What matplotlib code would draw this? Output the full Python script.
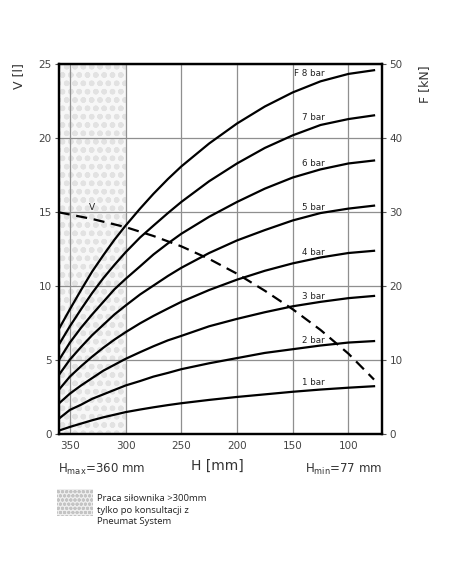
import numpy as np
import matplotlib
matplotlib.use('Agg')
import matplotlib.pyplot as plt
from matplotlib.patches import Rectangle

# stroke H [mm]
H = [360, 350, 340, 330, 320, 310, 300, 287, 275, 262, 250, 225, 200, 175, 150, 125, 100, 77]

# force F [kN] for each supply pressure
F_1bar = [0.5, 1.0, 1.45, 1.9, 2.3, 2.65, 3.0, 3.35, 3.65, 3.95, 4.2, 4.65, 5.05, 5.4, 5.75, 6.05, 6.3, 6.5]
F_2bar = [2.1, 3.3, 4.0, 4.8, 5.4, 6.0, 6.6, 7.2, 7.8, 8.3, 8.8, 9.6, 10.3, 11.0, 11.5, 12.0, 12.4, 12.6]
F_3bar = [4.15, 5.5, 6.6, 7.6, 8.6, 9.4, 10.2, 11.1, 11.9, 12.7, 13.3, 14.6, 15.6, 16.5, 17.3, 17.9, 18.4, 18.7]
F_4bar = [6.0, 7.8, 9.2, 10.5, 11.7, 12.8, 13.8, 15.0, 16.0, 17.0, 17.9, 19.5, 20.9, 22.1, 23.1, 23.9, 24.5, 24.8]
F_5bar = [8.0, 10.1, 11.8, 13.4, 14.8, 16.2, 17.4, 18.9, 20.1, 21.4, 22.5, 24.5, 26.2, 27.6, 28.9, 29.9, 30.5, 30.9]
F_6bar = [10.0, 12.4, 14.4, 16.2, 17.9, 19.6, 21.0, 22.7, 24.3, 25.8, 27.1, 29.4, 31.4, 33.2, 34.7, 35.8, 36.6, 37.0]
F_7bar = [12.1, 14.6, 16.9, 19.1, 21.1, 22.9, 24.6, 26.6, 28.2, 29.9, 31.4, 34.2, 36.6, 38.7, 40.4, 41.8, 42.6, 43.1]
F_8bar = [14.2, 16.9, 19.5, 22.0, 24.2, 26.3, 28.2, 30.5, 32.5, 34.5, 36.2, 39.3, 42.0, 44.3, 46.2, 47.7, 48.7, 49.2]
curves = [F_1bar, F_2bar, F_3bar, F_4bar, F_5bar, F_6bar, F_7bar, F_8bar]
curve_labels = ['1 bar', '2 bar', '3 bar', '4 bar', '5 bar', '6 bar', '7 bar', 'F 8 bar']
label_F = [7.0, 12.7, 18.6, 24.6, 30.6, 36.6, 42.8, 48.8]

# volume V [l]
H_V = [360, 330, 300, 275, 250, 225, 200, 175, 150, 125, 100, 77]
V = [15.0, 14.55, 14.0, 13.4, 12.7, 11.85, 10.85, 9.7, 8.45, 7.05, 5.45, 3.7]

x_ticks = [350, 300, 250, 200, 150, 100]
v_ticks = [0, 5, 10, 15, 20, 25]
f_ticks = [0, 10, 20, 30, 40, 50]

plt.rcParams['hatch.linewidth'] = 1.6

fig = plt.figure(figsize=(4.52, 5.84), dpi=100)
ax = fig.add_axes([0.13, 0.2563, 0.716, 0.6336])
ax2 = ax.twinx()

ax.set_xlim(360, 69.5)
ax.set_ylim(0, 25)
ax2.set_ylim(0, 50)

# area >300 mm (consultation only)
ax.axvspan(360, 300, facecolor='#f7f7f7', edgecolor='#e2e2e2', hatch='oo', linewidth=0, zorder=0)

ax.set_xticks(x_ticks)
ax.set_yticks(v_ticks)
ax2.set_yticks(f_ticks)
ax.grid(True, color='#8f8f8f', linewidth=0.9)
ax.set_axisbelow(True)

for k in range(len(curves)):
    ax2.plot(H, curves[k], color='black', linewidth=1.6)
    ax2.text(141.5 if k < 7 else 149, label_F[k], curve_labels[k], fontsize=6.3,
             ha='left', va='center', color='#222222', family='DejaVu Sans')

ax.plot(H_V, V, color='black', linewidth=1.6, dashes=(5, 3))
ax.text(330, 15.35, 'V', fontsize=6.5, ha='center', va='center', color='#222222')

for a in (ax, ax2):
    for s in a.spines.values():
        s.set_linewidth(1.6)
        s.set_color('black')
    a.tick_params(labelsize=7.5, labelcolor='#444444', length=3, width=0.8, color='#555555', pad=2)
ax.tick_params(axis='x', length=0, pad=5)

fig.text(0.04, 0.87, 'V [l]', rotation=90, fontsize=9, ha='center', va='center', color='#333333')
fig.text(0.94, 0.855, 'F [kN]', rotation=90, fontsize=9, ha='center', va='center', color='#333333')

fig.text(0.482, 0.203, 'H [mm]', fontsize=10, ha='center', va='center', color='#333333')
fig.text(0.128, 0.197, r'H$_{\mathrm{max}}$=360 mm', fontsize=8.5, ha='left', va='center', color='#333333')
fig.text(0.845, 0.197, r'H$_{\mathrm{min}}$=77 mm', fontsize=8.5, ha='right', va='center', color='#333333')

# legend for shaded area
plt.rcParams['hatch.linewidth'] = 1.0
fig.patches.append(Rectangle((0.127, 0.116), 0.079, 0.046, transform=fig.transFigure,
                             facecolor='#eeeeee', edgecolor='#c4c4c4', hatch='oooo', linewidth=0))
fig.text(0.214, 0.154, 'Praca siłownika >300mm\ntylko po konsultacji z\nPneumat System',
         fontsize=6.8, ha='left', va='top', color='#222222', linespacing=1.35, family='Open Sans')

fig.savefig('out.png', dpi=100)
